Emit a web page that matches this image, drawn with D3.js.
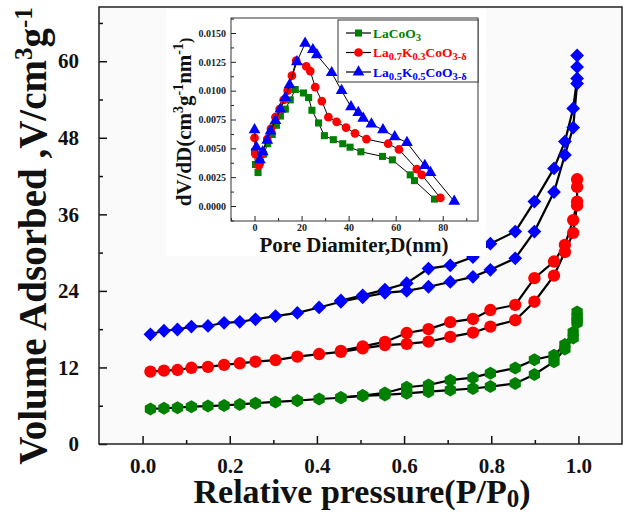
<!DOCTYPE html>
<html>
<head>
<meta charset="utf-8">
<script src="https://cdn.jsdelivr.net/npm/d3@7"></script>
<style>
body { margin: 0; background: #fff; }
text { font-family: "Liberation Serif", "Times New Roman", serif; font-weight: bold; }
</style>
</head>
<body>
<script>
// relative pressure points of the two branches
let pAds = [0.018, 0.049, 0.080, 0.112, 0.150, 0.187, 0.223, 0.259, 0.305, 0.355, 0.405, 0.455, 0.505,
	0.556, 0.606, 0.656, 0.706, 0.758, 0.798, 0.855, 0.899, 0.944, 0.969, 0.988, 0.997];
let pDes = [0.997, 0.997, 0.997, 0.988, 0.969, 0.944, 0.899, 0.855, 0.798, 0.758, 0.706, 0.656, 0.606,
	0.556, 0.505, 0.455];

// volume adsorbed, cm3/g
let greenAds = [5.5, 5.6, 5.7, 5.85, 5.95, 6.05, 6.2, 6.4, 6.6, 6.8, 7.05, 7.25, 7.55, 7.7, 7.95, 8.2, 8.45,
	8.7, 9.0, 9.5, 10.9, 12.9, 14.9, 16.6, 19.0];
let greenDes = [20.7, 20.0, 19.4, 17.5, 15.6, 13.9, 13.2, 11.9, 11.1, 10.4, 10.0, 9.25, 8.9, 8.0, 7.6, 7.3];
let redAds = [11.35, 11.5, 11.6, 11.95, 12.1, 12.4, 12.65, 12.9, 13.15, 13.7, 14.1, 14.45, 15.0, 15.5, 15.7,
	16.05, 16.8, 17.45, 18.4, 19.4, 22.3, 26.4, 30.1, 33.1, 37.4];
let redDes = [41.5, 40.3, 38.0, 35.1, 31.2, 28.6, 26.0, 21.8, 21.0, 19.6, 19.1, 18.0, 17.4, 16.0, 15.3, 14.6];
let blueAds = [17.2, 17.75, 17.95, 18.4, 18.5, 19.0, 19.15, 19.55, 20.05, 20.55, 21.4, 22.3, 23.0, 23.7, 24.0,
	24.65, 25.4, 26.2, 27.3, 29.1, 33.3, 39.5, 45.3, 49.6, 56.5];
let blueDes = [60.9, 59.1, 57.3, 52.6, 47.4, 43.2, 38.0, 33.3, 31.4, 29.3, 28.0, 27.5, 25.2, 24.2, 23.3, 22.5];

let xTicks = [0, 0.2, 0.4, 0.6, 0.8, 1.0];
let yTicks = [0, 12, 24, 36, 48, 60];

// pore size distribution (inset)
let lacoD = [0, 0.4, 1.5, 2.5, 3.9, 5.6, 7.5, 9.3, 11, 13.1, 15.2, 17.3, 20.8, 23, 24.4, 27.2, 29.7, 33.5,
	37.5, 40.6, 45.2, 54.4, 58.6, 66.2, 68, 76.5];
let lacoV = [0.0047, 0.0036, 0.0029, 0.0038, 0.0045, 0.0054, 0.0062, 0.0070, 0.0078, 0.0084, 0.0092, 0.0101,
	0.0098, 0.0094, 0.0083, 0.0072, 0.0061, 0.00575, 0.0054, 0.0051, 0.0047, 0.0043, 0.0040, 0.0027, 0.0022, 0.0006];
let k03D = [0, 0.4, 1.8, 3.2, 5.4, 7, 8.9, 10.7, 12.4, 14.1, 15.9, 17.7, 22, 23.7, 25.8, 28.6, 31.4, 34.9,
	38.9, 42.7, 47.6, 56.8, 61.4, 69, 71.1, 79];
let k03V = [0.0059, 0.0045, 0.0035, 0.0045, 0.0058, 0.0067, 0.0077, 0.0084, 0.0092, 0.0100, 0.0113, 0.0126,
	0.0121, 0.0117, 0.0103, 0.0091, 0.0077, 0.0073, 0.0068, 0.0063, 0.0058, 0.0054, 0.0049, 0.0032, 0.0027, 0.0007];
let k05D = [0, 0.8, 2.3, 3.5, 5.4, 6.8, 8.9, 11, 13.1, 14.9, 18, 21.5, 24.8, 26.5, 32.8, 37, 41, 44.1, 46.2,
	49.7, 54.6, 59.6, 64.8, 72.4, 74.8, 84.9];
let k05V = [0.0066, 0.0051, 0.0040, 0.0047, 0.0057, 0.0065, 0.0074, 0.0084, 0.0094, 0.0105, 0.0125, 0.0141,
	0.01355, 0.0131, 0.01156, 0.0100, 0.0086, 0.0081, 0.0076, 0.0071, 0.0066, 0.0060, 0.0055, 0.0035, 0.0029, 0.0004];

let insetXTicks = [0, 20, 40, 60, 80];
let insetYTicks = [0, 0.0025, 0.005, 0.0075, 0.01, 0.0125, 0.015];

let svg = d3.select("body").append("svg")
	.attr("width", 627)
	.attr("height", 517);

let margin = {top: 7, right: 5, bottom: 73, left: 99};
let innerWidth = 627 - margin.left - margin.right;
let innerHeight = 517 - margin.top - margin.bottom;

let x = d3.scaleLinear().domain([-0.1, 1.1]).range([0, innerWidth]);
let y = d3.scaleLinear().domain([0, 68.5]).range([innerHeight, 0]);

let g = svg.append("g").attr("transform", `translate(${margin.left}, ${margin.top})`);

g.append("rect")
	.attr("width", innerWidth)
	.attr("height", innerHeight)
	.attr("fill", "#fafafa");

// hexagon symbol, pointy top
let hexagon = {
	draw(ctx, size) {
		let r = Math.sqrt(size / (1.5 * Math.sqrt(3)));
		for (let i = 0; i < 6; i++) {
			let a = Math.PI / 2 + i * Math.PI / 3;
			let px = r * Math.cos(a), py = r * Math.sin(a);
			if (i === 0) ctx.moveTo(px, py); else ctx.lineTo(px, py);
		}
		ctx.closePath();
	}
};

// square turned 45 degrees
let diamond = {
	draw(ctx, size) {
		let r = Math.sqrt(size / 2);
		ctx.moveTo(0, -r);
		ctx.lineTo(r, 0);
		ctx.lineTo(0, r);
		ctx.lineTo(-r, 0);
		ctx.closePath();
	}
};

let series = [
	{ads: greenAds, des: greenDes, color: "#008000", sym: d3.symbol().type(hexagon).size(110)},
	{ads: redAds, des: redDes, color: "#ff0000", sym: d3.symbol().type(d3.symbolCircle).size(120)},
	{ads: blueAds, des: blueDes, color: "#0000ff", sym: d3.symbol().type(diamond).size(95)}
];

let line = d3.line().x(d => x(d[0])).y(d => y(d[1]));

series.forEach(s => {
	let a = pAds.map((p, i) => [p, s.ads[i]]);
	let d = pDes.map((p, i) => [p, s.des[i]]);
	[a, d].forEach(pts => {
		g.append("path")
			.datum(pts)
			.attr("fill", "none")
			.attr("stroke", "#000")
			.attr("stroke-width", 2.2)
			.attr("d", line);
	});
	g.append("g").selectAll("path")
		.data(a.concat(d))
		.join("path")
		.attr("transform", p => `translate(${x(p[0])}, ${y(p[1])})`)
		.attr("d", s.sym())
		.attr("fill", s.color);
});

// axes, ticks pointing inward
g.append("g")
	.attr("transform", `translate(0, ${innerHeight})`)
	.call(d3.axisBottom(x).tickValues(xTicks).tickSize(-8).tickPadding(14).tickFormat(d3.format(".1f")));
g.append("g")
	.attr("class", "minor")
	.attr("transform", `translate(0, ${innerHeight})`)
	.call(d3.axisBottom(x).tickValues([0.1, 0.3, 0.5, 0.7, 0.9]).tickSize(-4).tickFormat(""));
g.append("g")
	.call(d3.axisLeft(y).tickValues(yTicks).tickSize(-8).tickPadding(20));
g.append("g")
	.attr("class", "minor")
	.call(d3.axisLeft(y).tickValues([6, 18, 30, 42, 54, 66]).tickSize(-4).tickFormat(""));

g.selectAll(".minor text").remove(); //minor ticks carry no labels
g.selectAll(".domain").remove();
g.selectAll(".tick line").attr("stroke", "#111").attr("stroke-width", 1.5);
g.selectAll(".tick text")
	.attr("font-family", "Liberation Serif")
	.attr("font-weight", "bold")
	.attr("font-size", 21)
	.attr("fill", "#111");

g.append("rect")
	.attr("width", innerWidth)
	.attr("height", innerHeight)
	.attr("fill", "none")
	.attr("stroke", "#222")
	.attr("stroke-width", 1.5);

// axis titles
let xTitle = svg.append("text")
	.attr("x", 362)
	.attr("y", 503)
	.attr("text-anchor", "middle")
	.attr("font-size", 34)
	.attr("fill", "#111");
xTitle.append("tspan").text("Relative pressure(P/P");
xTitle.append("tspan").attr("dy", 4).attr("font-size", 25).text("0");
xTitle.append("tspan").attr("dy", -4).text(")");

let yTitle = svg.append("text")
	.attr("transform", "translate(46, 236) rotate(-90)")
	.attr("text-anchor", "middle")
	.attr("font-size", 39)
	.attr("fill", "#111");
yTitle.append("tspan").text("Volume Adsorbed ,V/cm");
yTitle.append("tspan").attr("dy", -14).attr("font-size", 25).text("3");
yTitle.append("tspan").attr("dy", 14).text("g");
yTitle.append("tspan").attr("dy", -14).attr("font-size", 25).text("-1");

/*
	INSET
*/

svg.append("rect")
	.attr("x", 166).attr("y", 9)
	.attr("width", 320).attr("height", 247)
	.attr("fill", "#fff");

let ins = {left: 231, top: 18, width: 247, height: 203};
let xi = d3.scaleLinear().domain([-10, 95]).range([0, ins.width]);
let yi = d3.scaleLinear().domain([-0.0013, 0.0163]).range([ins.height, 0]);

let gi = svg.append("g").attr("transform", `translate(${ins.left}, ${ins.top})`);

let lineI = d3.line().x(d => xi(d[0])).y(d => yi(d[1]));

let insetSeries = [
	{d: lacoD, v: lacoV, color: "#008000", sym: d3.symbol().type(d3.symbolSquare).size(50)},
	{d: k03D, v: k03V, color: "#ff0000", sym: d3.symbol().type(d3.symbolCircle).size(60)},
	{d: k05D, v: k05V, color: "#0000ff", sym: d3.symbol().type(d3.symbolTriangle).size(60)}
];

insetSeries.forEach(s => {
	let pts = s.d.map((dd, i) => [dd, s.v[i]]);
	gi.append("path")
		.datum(pts)
		.attr("fill", "none")
		.attr("stroke", "#000")
		.attr("stroke-width", 1)
		.attr("d", lineI);
	gi.append("g").selectAll("path")
		.data(pts)
		.join("path")
		.attr("transform", p => `translate(${xi(p[0])}, ${yi(p[1])})`)
		.attr("d", s.sym())
		.attr("fill", s.color);
});

gi.append("g")
	.attr("transform", `translate(0, ${ins.height})`)
	.call(d3.axisBottom(xi).tickValues(insetXTicks).tickSize(-5).tickPadding(3));
gi.append("g")
	.attr("class", "minor")
	.attr("transform", `translate(0, ${ins.height})`)
	.call(d3.axisBottom(xi).tickValues([-10, 10, 30, 50, 70, 90]).tickSize(-3).tickFormat(""));
gi.append("g")
	.call(d3.axisLeft(yi).tickValues(insetYTicks).tickSize(-5).tickPadding(5).tickFormat(d3.format(".4f")));
gi.append("g")
	.attr("class", "minor")
	.call(d3.axisLeft(yi).tickValues([-0.00125, 0.00125, 0.00375, 0.00625, 0.00875, 0.01125, 0.01375, 0.01625]).tickSize(-3).tickFormat(""));

gi.selectAll(".minor text").remove();
gi.selectAll(".domain").remove();
gi.selectAll(".tick line").attr("stroke", "#222").attr("stroke-width", 1);
gi.selectAll(".tick text")
	.attr("font-family", "Liberation Serif")
	.attr("font-weight", "bold")
	.attr("font-size", 10)
	.attr("fill", "#222");

gi.append("rect")
	.attr("width", ins.width)
	.attr("height", ins.height)
	.attr("fill", "none")
	.attr("stroke", "#333")
	.attr("stroke-width", 1);

svg.append("text")
	.attr("x", 354)
	.attr("y", 252)
	.attr("text-anchor", "middle")
	.attr("font-size", 21)
	.attr("fill", "#111")
	.text("Pore Diamiter,D(nm)");

let yiTitle = svg.append("text")
	.attr("transform", "translate(191, 122) rotate(-90)")
	.attr("text-anchor", "middle")
	.attr("font-size", 21)
	.attr("fill", "#111");
yiTitle.append("tspan").text("dV/dD(cm");
yiTitle.append("tspan").attr("dy", -8).attr("font-size", 14).text("3");
yiTitle.append("tspan").attr("dy", 8).text("g");
yiTitle.append("tspan").attr("dy", -8).attr("font-size", 14).text("-1");
yiTitle.append("tspan").attr("dy", 8).text("nm");
yiTitle.append("tspan").attr("dy", -8).attr("font-size", 14).text("-1");
yiTitle.append("tspan").attr("dy", 8).attr("font-size", 16).text(")");

// legend
let legend = svg.append("g");
legend.append("rect")
	.attr("x", 338).attr("y", 20)
	.attr("width", 140).attr("height", 62)
	.attr("fill", "#fff")
	.attr("stroke", "#333")
	.attr("stroke-width", 1);

let legendNames = [
	[["LaCoO", 0], ["3", 1]],
	[["La", 0], ["0.7", 1], ["K", 0], ["0.3", 1], ["CoO", 0], ["3-δ", 1]],
	[["La", 0], ["0.5", 1], ["K", 0], ["0.5", 1], ["CoO", 0], ["3-δ", 1]]
];

insetSeries.forEach((s, i) => {
	let cy = 33 + i * 19.5;
	legend.append("line")
		.attr("x1", 346).attr("x2", 371)
		.attr("y1", cy).attr("y2", cy)
		.attr("stroke", "#000")
		.attr("stroke-width", 1.2);
	legend.append("path")
		.attr("transform", `translate(358.5, ${cy})`)
		.attr("d", s.sym())
		.attr("fill", s.color);
	let t = legend.append("text")
		.attr("x", 373)
		.attr("y", cy + 4.5)
		.attr("font-size", 13.5)
		.attr("fill", s.color);
	let low = false;
	legendNames[i].forEach(([str, sub]) => {
		let ts = t.append("tspan").text(str);
		if (sub && !low) { ts.attr("dy", 3).attr("font-size", 10.5); low = true; }
		else if (!sub && low) { ts.attr("dy", -3); low = false; }
		else if (sub) ts.attr("font-size", 10.5);
	});
});
</script>
</body>
</html>
